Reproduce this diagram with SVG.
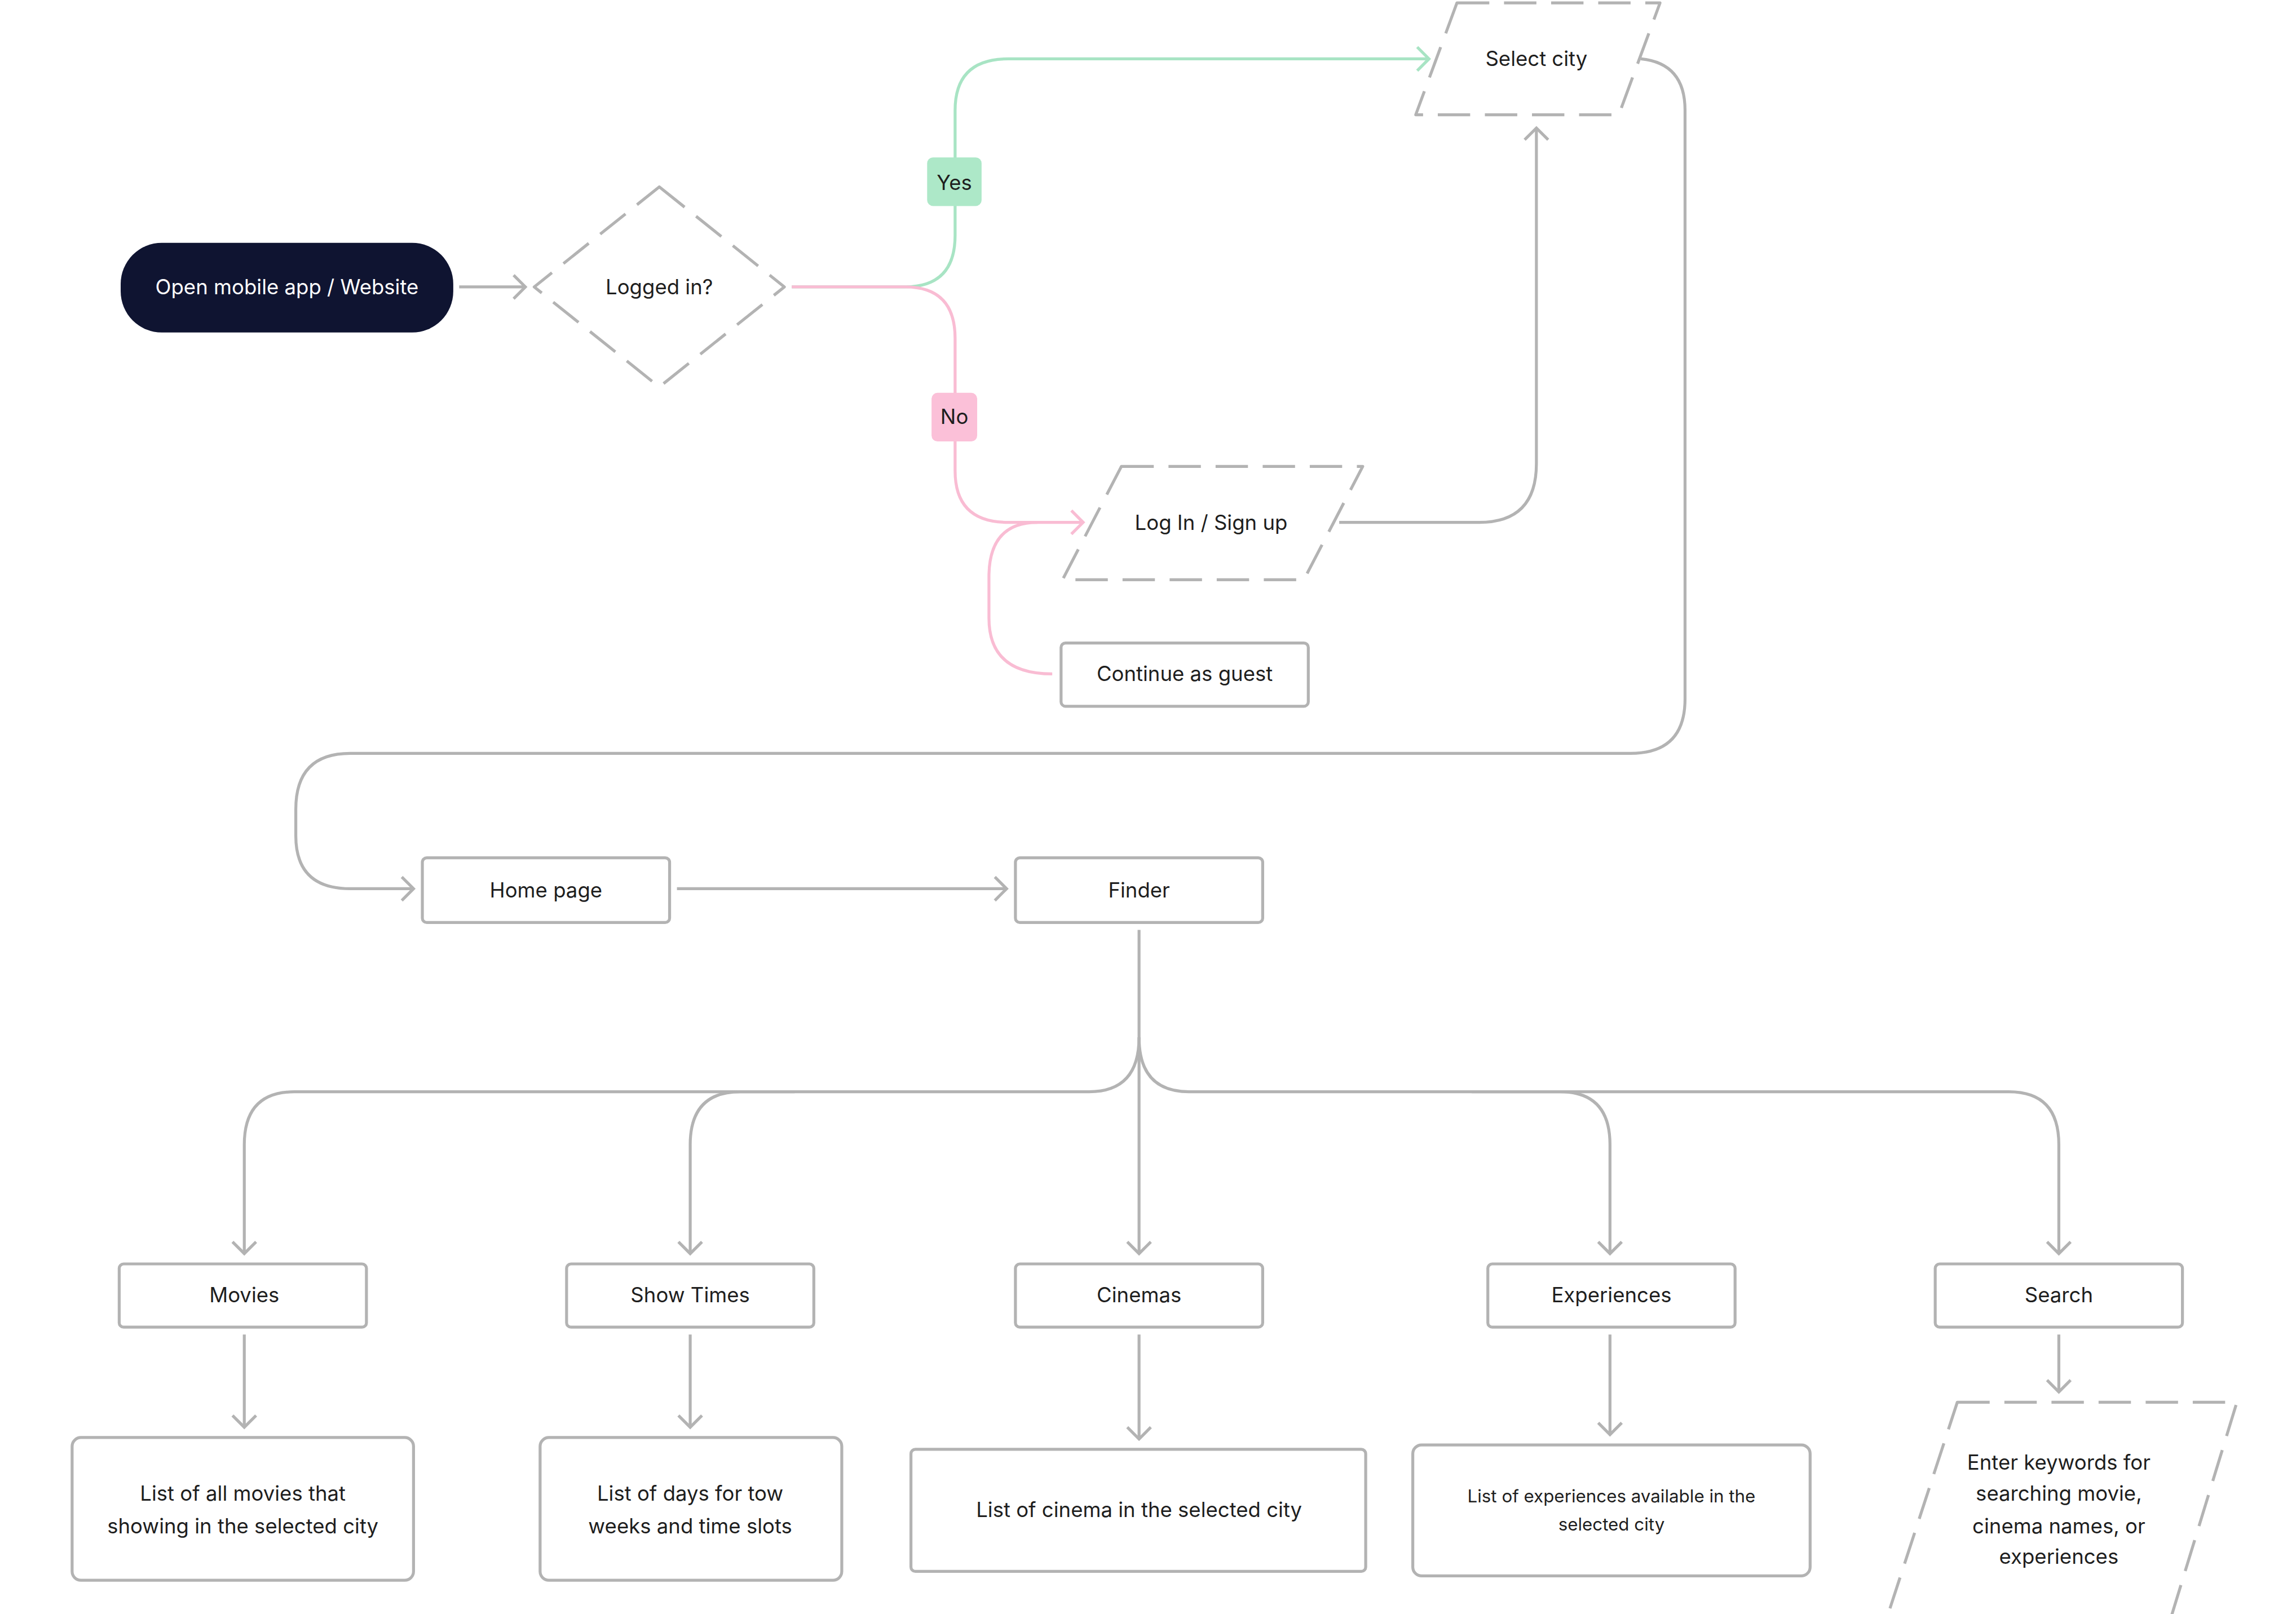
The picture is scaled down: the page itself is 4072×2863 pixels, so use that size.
<svg xmlns="http://www.w3.org/2000/svg" width="4072" height="2863" viewBox="0 0 4072 2863">
<style>
text{font-family:Inter,"Liberation Sans",sans-serif;font-size:14px;fill:#1e1e1e;text-anchor:middle;dominant-baseline:central}
.b{fill:#fff;stroke:#b3b3b3;stroke-width:2}
.d{fill:none;stroke:#b3b3b3;stroke-width:2;stroke-dasharray:22 10;stroke-linejoin:round}
.c{fill:none;stroke:#b3b3b3;stroke-width:2}
.g{fill:none;stroke:#a8e4c4;stroke-width:2}
.p{fill:none;stroke:#f9bcd3;stroke-width:2}
</style>
<defs>
<marker id="a" markerUnits="userSpaceOnUse" markerWidth="20" markerHeight="20" refX="10" refY="10" orient="auto"><path d="M2 2 L10 10 L2 18" fill="none" stroke="#b3b3b3" stroke-width="2"/></marker>
<marker id="ag" markerUnits="userSpaceOnUse" markerWidth="20" markerHeight="20" refX="10" refY="10" orient="auto"><path d="M2 2 L10 10 L2 18" fill="none" stroke="#a8e4c4" stroke-width="2"/></marker>
<marker id="ap" markerUnits="userSpaceOnUse" markerWidth="20" markerHeight="20" refX="10" refY="10" orient="auto"><path d="M2 2 L10 10 L2 18" fill="none" stroke="#f9bcd3" stroke-width="2"/></marker>
</defs>
<rect width="4072" height="2863" fill="#fff"/>
<g transform="scale(2.61)">
<g id="connectors">
<path class="c" d="M312 195 H357" marker-end="url(#a)"/>
<path class="g" d="M538 195 H615 Q649 195 649 160 V75 Q649 40 685 40 H971" marker-end="url(#ag)"/>
<path class="p" d="M538 195 H615 Q649 195 649 230 V320 Q649 355 685 355 H736" marker-end="url(#ap)"/>
<path class="p" d="M715 458 Q672 458 672 420 V392 Q672 355 705 355"/>
<path class="c" d="M910 355 H1005 Q1044 355 1044 315 V87" marker-end="url(#a)"/>
<path class="c" d="M1115 40 Q1145 43 1145 75 V475 Q1145 512 1108 512 H238 Q201 512 201 550 V568 Q201 604 238 604 H281" marker-end="url(#a)"/>
<path class="c" d="M460 604 H684" marker-end="url(#a)"/>
<path class="c" d="M774 632 V852" marker-end="url(#a)"/>
<path class="c" d="M774 705 Q774 742 740 742 H200 Q166 742 166 778 V852" marker-end="url(#a)"/>
<path class="c" d="M540 742 H503 Q469 742 469 778 V852" marker-end="url(#a)"/>
<path class="c" d="M774 705 Q774 742 808 742 H1060 Q1094 742 1094 778 V852" marker-end="url(#a)"/>
<path class="c" d="M1000 742 H1365 Q1399 742 1399 778 V852" marker-end="url(#a)"/>
<path class="c" d="M166 907 V970" marker-end="url(#a)"/>
<path class="c" d="M469 907 V970" marker-end="url(#a)"/>
<path class="c" d="M774 907 V978" marker-end="url(#a)"/>
<path class="c" d="M1094 907 V975" marker-end="url(#a)"/>
<path class="c" d="M1399 907 V946" marker-end="url(#a)"/>
<rect x="630" y="107" width="37" height="33" rx="4" fill="#ade8c8"/>
<text x="648.5" y="124">Yes</text>
<rect x="633" y="267" width="31" height="33" rx="4" fill="#fbc0d8"/>
<text x="648.5" y="283">No</text>
</g>
<g id="start"><rect x="82" y="165" width="226" height="61" rx="28" fill="#0f1431"/><text x="195" y="195" style="fill:#fff">Open mobile app / Website</text></g>
<g id="logged"><path class="d" d="M448 127 L533 195 L448 263 L363 195 Z"/><text x="448" y="195">Logged in?</text></g>
<g id="city"><path class="d" d="M990 2 H1128 L1100 78 H962 Z"/><text x="1044" y="40">Select city</text></g>
<g id="login"><path class="d" d="M762 317 H926 L886 394 H722 Z"/><text x="823" y="355">Log In / Sign up</text></g>
<g id="guest"><rect class="b" x="721" y="437" width="168" height="43" rx="3"/><text x="805" y="458">Continue as guest</text></g>
<g id="home"><rect class="b" x="287" y="583" width="168" height="44" rx="3"/><text x="371" y="605">Home page</text></g>
<g id="finder"><rect class="b" x="690" y="583" width="168" height="44" rx="3"/><text x="774" y="605">Finder</text></g>
<g id="movies"><rect class="b" x="81" y="859" width="168" height="43" rx="3"/><text x="166" y="880">Movies</text></g>
<g id="showtimes"><rect class="b" x="385" y="859" width="168" height="43" rx="3"/><text x="469" y="880">Show Times</text></g>
<g id="cinemas"><rect class="b" x="690" y="859" width="168" height="43" rx="3"/><text x="774" y="880">Cinemas</text></g>
<g id="experiences"><rect class="b" x="1011" y="859" width="168" height="43" rx="3"/><text x="1095" y="880">Experiences</text></g>
<g id="search"><rect class="b" x="1315" y="859" width="168" height="43" rx="3"/><text x="1399" y="880">Search</text></g>
<g id="movieslist"><rect class="b" x="49" y="977" width="232" height="97" rx="6"/><text x="165" y="1015">List of all movies that</text><text x="165" y="1037">showing in the selected city</text></g>
<g id="dayslist"><rect class="b" x="367" y="977" width="205" height="97" rx="6"/><text x="469" y="1015">List of days for tow</text><text x="469" y="1037">weeks and time slots</text></g>
<g id="cinemalist"><rect class="b" x="619" y="985" width="309" height="83" rx="3"/><text x="774" y="1026">List of cinema in the selected city</text></g>
<g id="explist"><rect class="b" x="960" y="982" width="270" height="89" rx="6"/><text x="1095" y="1017" style="font-size:12px">List of experiences available in the</text><text x="1095" y="1036" style="font-size:12px">selected city</text></g>
<g id="keywords"><path class="d" d="M1330 953 H1520 L1475 1100 H1282 Z"/><text x="1399" y="994">Enter keywords for</text><text x="1399" y="1015">searching movie,</text><text x="1399" y="1037">cinema names, or</text><text x="1399" y="1058">experiences</text></g>
</g>
</svg>
